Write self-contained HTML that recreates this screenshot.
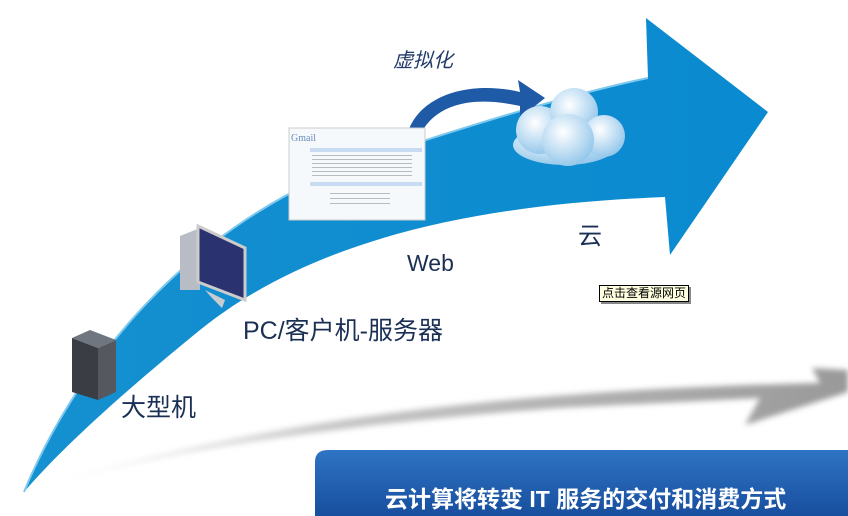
<!DOCTYPE html>
<html><head><meta charset="utf-8"><style>
html,body{margin:0;padding:0;background:#fff;}
#c{position:relative;width:848px;height:516px;overflow:hidden;background:#fff;font-family:"Liberation Sans","Noto Sans CJK SC",sans-serif;}
.t{position:absolute;color:#1b2f55;white-space:nowrap;}
</style></head><body><div id="c">
<svg width="848" height="516" style="position:absolute;left:0;top:0">
<defs>
<linearGradient id="bl" x1="0" y1="0" x2="1" y2="0">
<stop offset="0" stop-color="#1590d0"/><stop offset="1" stop-color="#0a8ad0"/></linearGradient>
<linearGradient id="gr" x1="0" y1="0" x2="1" y2="0">
<stop offset="0" stop-color="#eee" stop-opacity="0.2"/><stop offset="0.35" stop-color="#c8c8c8"/><stop offset="1" stop-color="#999"/></linearGradient>
<linearGradient id="bn" x1="0" y1="0" x2="0" y2="1">
<stop offset="0" stop-color="#2f74c4"/><stop offset="1" stop-color="#184e9e"/></linearGradient>
<radialGradient id="cl" cx="0.4" cy="0.35" r="0.7"><stop offset="0" stop-color="#ffffff"/><stop offset="1" stop-color="#8fc4ea"/></radialGradient>
<filter id="bf"><feGaussianBlur stdDeviation="3"/></filter>
</defs>
<!-- gray shadow arrow -->
<path d="M30,490 C200,440 420,418 560,408 L760,398 L745,425 L848,392 L848,370 L812,368 L820,383 C600,388 300,405 30,490 Z" fill="url(#gr)" filter="url(#bf)"/>
<!-- main arrow -->
<path d="M24,492 C70,380 180,220 380,155 C480,122 580,92 648,78 L646,18 L768,112 L670,255 L665,197 C520,203 330,225 200,330 C120,395 60,450 24,492 Z" fill="url(#bl)"/>
<path d="M24,492 C70,380 180,220 380,155 C480,122 580,92 648,78" fill="none" stroke="#7cc8ee" stroke-width="2"/>
<!-- small curved arrow -->
<path d="M408,132 C420,95 470,80 520,92 L518,80 L545,98 L520,118 L520,106 C470,95 435,105 420,135 Z" fill="#1e5aa5"/>
<!-- cloud -->
<g fill="url(#cl)">
<ellipse cx="565" cy="145" rx="52" ry="20"/>
<circle cx="540" cy="130" r="24"/>
<circle cx="574" cy="112" r="24"/>
<circle cx="604" cy="136" r="21"/>
<circle cx="568" cy="140" r="26"/>
</g>
<!-- gmail screenshot -->
<rect x="289" y="128" width="136" height="92" fill="#f6f9fb" stroke="#ccc"/>
<rect x="310" y="148" width="112" height="4" fill="#c9daf3"/>
<rect x="310" y="182" width="112" height="4" fill="#c9daf3"/>
<g fill="#bbb"><rect x="312" y="155" width="100" height="1"/><rect x="312" y="159" width="100" height="1"/><rect x="312" y="163" width="100" height="1"/><rect x="312" y="167" width="100" height="1"/><rect x="312" y="171" width="100" height="1"/><rect x="312" y="175" width="100" height="1"/><rect x="330" y="193" width="60" height="1"/><rect x="330" y="198" width="60" height="1"/><rect x="330" y="203" width="60" height="1"/></g>
<text x="291" y="141" font-size="10" fill="#6a8bbf" font-family="Liberation Serif">Gmail</text>
<!-- PC -->
<polygon points="180,236 200,228 200,290 180,290" fill="#b8bcc4"/>
<polygon points="198,226 245,248 245,300 198,282" fill="#2a3270" stroke="#ccc" stroke-width="3"/>
<polygon points="205,290 225,300 222,308 212,298" fill="#c8ccd0"/>
<!-- server -->
<polygon points="72,338 90,330 116,340 98,348" fill="#707680"/>
<polygon points="72,338 98,348 98,400 72,392" fill="#3a3d44"/>
<polygon points="98,348 116,340 116,392 98,400" fill="#55585f"/>
<!-- banner -->
<path d="M315,462 Q315,450 328,450 L848,450 L848,516 L315,516 Z" fill="url(#bn)"/>
</svg>
<div class="t" style="left:393px;top:44px;font-size:20px;font-style:italic;color:#203a6a">虚拟化</div>
<div class="t" style="left:578px;top:216px;font-size:24px">云</div>
<div class="t" style="left:407px;top:250px;font-size:23px">Web</div>
<div class="t" style="left:243px;top:311px;font-size:25px">PC/客户机-服务器</div>
<div class="t" style="left:121px;top:388px;font-size:25px">大型机</div>
<div class="t" style="left:599px;top:285px;font-size:12px;background:#ffffe1;border:1px solid #000;box-shadow:2px 2px 0 #888;padding:0 2px;line-height:15px;color:#000">点击查看源网页</div>
<div class="t" style="left:385px;top:480px;font-size:23px;font-weight:bold;color:#fff">云计算将转变 IT 服务的交付和消费方式</div>
</div></body></html>
